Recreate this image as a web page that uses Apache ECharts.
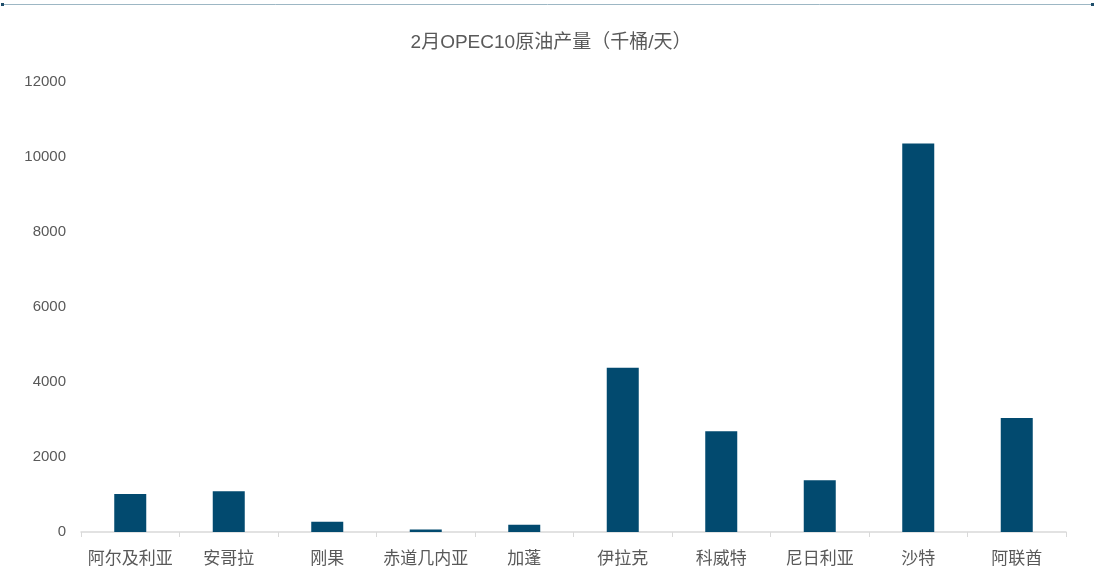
<!DOCTYPE html>
<html><head><meta charset="utf-8">
<script src="https://cdn.jsdelivr.net/npm/echarts@6/dist/echarts.min.js"></script>
<style>html,body{margin:0;padding:0;background:#fff}#c{width:1102px;height:586px}</style>
</head><body><div id="c"></div>
<script>
const title = '2月OPEC10原油产量（千桶/天）';
const categories = ['阿尔及利亚','安哥拉','刚果','赤道几内亚','加蓬','伊拉克','科威特','尼日利亚','沙特','阿联酋'];
const production = [1013, 1085, 275, 65, 195, 4380, 2685, 1378, 10360, 3040];
const yMin = 0, yMax = 12000, yStep = 2000;

const font = "'Liberation Sans','Noto Sans CJK SC',sans-serif";
const chart = echarts.init(document.getElementById('c'));
chart.setOption({
  animation: false,
  textStyle: {fontFamily: font},
  title: {text: title, left: 'center', top: 28, textStyle: {fontSize: 19, fontWeight: 'normal', color: '#595959', fontFamily: font}},
  graphic: [
    {type: 'line', shape: {x1: 3, y1: 4.5, x2: 1092, y2: 4.5}, style: {stroke: '#9db7c4', lineWidth: 1}},
    {type: 'rect', shape: {x: 1, y: 3, width: 3, height: 3}, style: {fill: '#1f4e6b'}},
    {type: 'rect', shape: {x: 1091, y: 3, width: 3, height: 3}, style: {fill: '#1f4e6b'}}
  ],
  grid: {left: 81, right: 36, top: 82, bottom: 54, containLabel: false},
  xAxis: {
    type: 'category', data: categories,
    axisLine: {lineStyle: {color: '#d9d9d9', width: 1.5}},
    axisTick: {show: true, length: 5, lineStyle: {color: '#d9d9d9'}},
    axisLabel: {color: '#595959', fontSize: 17, margin: 19, interval: 0}
  },
  yAxis: {
    type: 'value', min: yMin, max: yMax, interval: yStep,
    splitLine: {show: false},
    axisLine: {show: false}, axisTick: {show: false},
    axisLabel: {color: '#595959', fontSize: 15, margin: 15, formatter: v => String(v)}
  },
  series: [{
    type: 'bar', data: production, barWidth: 32,
    itemStyle: {color: '#024a6f'}
  }]
});
</script></body></html>
